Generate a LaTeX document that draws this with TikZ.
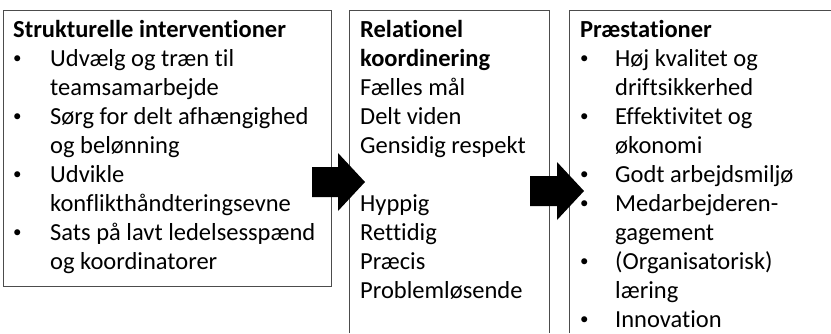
\documentclass[tikz,border=0pt]{standalone}
\usepackage{fontspec}
\setmainfont{Carlito}[Ligatures=NoCommon]
\begin{document}
\begin{tikzpicture}[x=1pt,y=-1pt,
  frame/.style={draw=black!70, line width=0.9pt},
  txt/.style={anchor=base west, inner sep=0pt, font=\fontsize{24.5}{29}\selectfont},
  headtxt/.style={txt, font=\fontsize{24.5}{29}\selectfont\bfseries},
  bullet/.style={anchor=base west, inner sep=0pt, font=\fontsize{17}{17}\selectfont},
  blockarrow/.style={fill=black, draw=none}]
\useasboundingbox (0,0) rectangle (831,333);

% the three columns
\draw[frame] (3,10) rectangle (331,286);
\draw[frame] (349,333) -- (349,10) -- (549,10) -- (549,333);
\draw[frame] (569,333) -- (569,10) -- (831,10);

% left column: structural interventions
\node[headtxt] (lhead) at (13,37) {Strukturelle interventioner};
\foreach \i in {1,3,5,7}
  \node[bullet] (lbul\i) at (13,{34+29*\i}) {•};
\foreach \i/\t in {1/Udvælg og træn til, 2/teamsamarbejde,
                   3/Sørg for delt afhængighed, 4/og belønning,
                   5/Udvikle, 6/konflikthåndteringsevne,
                   7/Sats på lavt ledelsesspænd, 8/og koordinatorer}
  \node[txt] (ltxt\i) at (50,{37+29*\i}) {\t};

% middle column: relational coordination
\node[headtxt] (mhead0) at (360,37) {Relationel};
\node[headtxt] (mhead1) at (360,{37+29}) {koordinering};
\foreach \i/\t in {2/Fælles mål, 3/Delt viden, 4/Gensidig respekt,
                   6/Hyppig, 7/Rettidig, 8/Præcis, 9/Problemløsende}
  \node[txt] (mtxt\i) at (360,{37+29*\i}) {\t};

% right column: performance
\node[headtxt] (rhead) at (580,37) {Præstationer};
\foreach \i in {1,3,5,6,8,10}
  \node[bullet] (rbul\i) at (580,{34+29*\i}) {•};
\foreach \i/\t in {1/Høj kvalitet og, 2/driftsikkerhed,
                   3/Effektivitet og, 4/økonomi,
                   5/Godt arbejdsmiljø, 6/Medarbejderen-, 7/gagement,
                   8/(Organisatorisk), 9/læring, 10/Innovation}
  \node[txt] (rtxt\i) at (615,{37+29*\i}) {\t};

% block arrows between the columns
\fill[blockarrow] (312,167) -- (338,167) -- (338,153) -- (365,182)
  -- (338,211) -- (338,197) -- (312,197) -- cycle;
\fill[blockarrow] (530,176) -- (557,176) -- (557,162) -- (584,191)
  -- (557,220) -- (557,206) -- (530,206) -- cycle;
\end{tikzpicture}
\end{document}
